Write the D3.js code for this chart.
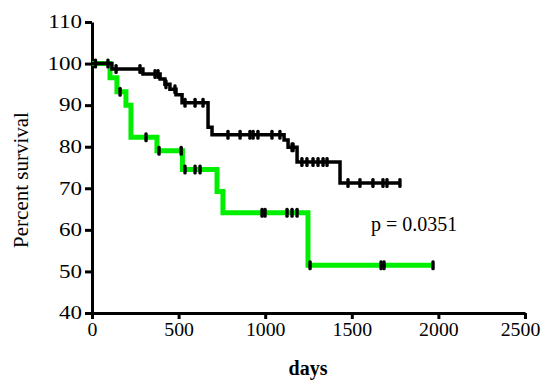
<!DOCTYPE html>
<html>
<head>
<meta charset="utf-8">
<script src="https://cdn.jsdelivr.net/npm/d3@7"></script>
<style>
  html, body { margin: 0; padding: 0; background: #fff; }
  svg { display: block; }
</style>
</head>
<body>
<svg id="chart" width="546" height="380"></svg>
<script>
// Kaplan-Meier steps (days, percent after the drop)
const blackDropDays = [115, 294, 393, 421, 450, 485, 520, 670, 693, 1109, 1132, 1184, 1432];
const blackLevels   = [98.7, 97.5, 96.3, 95.0, 93.8, 92.5, 90.6, 84.7, 82.9, 81.6, 79.9, 76.3, 71.3];
const blackEndDay = 1778;
const blackCensorDays = [20, 92, 139, 277, 364, 381, 427, 479, 537, 595, 641, 785, 855, 912, 930, 958,
  1039, 1085, 1155, 1161, 1212, 1241, 1276, 1305, 1334, 1357, 1478, 1547, 1622, 1680, 1703, 1778];

const greenDropDays = [104, 144, 196, 225, 375, 522, 722, 756, 1247];
const greenLevels   = [96.6, 93.2, 90.0, 82.3, 79.0, 74.5, 69.2, 64.1, 51.5];
const greenEndDay = 1969;
const greenCensorDays = [162, 312, 387, 515, 537, 595, 624, 982, 999, 1126, 1155, 1184, 1259, 1669, 1686, 1969];

const xTicks = [0, 500, 1000, 1500, 2000, 2500];
const yTicks = [40, 50, 60, 70, 80, 90, 100, 110];
const pLabel = "p = 0.0351";

const svg = d3.select("#chart");
const font = "'Liberation Serif', 'Times New Roman', serif";
// the original figure's lettering is a bit wide
const yStretch = 1.28;
const xStretch = 1.1;

const x = d3.scaleLinear().domain([0, 2500]).range([92, 525]);
const y = d3.scaleLinear().domain([40, 110]).range([313, 22]);

// build step points from drops
function stepPoints(days, levels, end) {
  const pts = [[0, 100]];
  days.forEach((d, i) => pts.push([d, levels[i]]));
  pts.push([end, levels[levels.length - 1]]);
  return pts;
}
function valueAt(days, levels, t) {
  let v = 100;
  days.forEach((d, i) => { if (d <= t) v = levels[i]; });
  return v;
}

const line = d3.line()
  .x(d => x(d[0]))
  .y(d => y(d[1]))
  .curve(d3.curveStepAfter);

// axes
const yAxis = d3.axisLeft(y).tickValues(yTicks).tickSize(7).tickSizeOuter(0).tickPadding(3);
const xAxis = d3.axisBottom(x).tickValues(xTicks).tickFormat(d3.format("d"))
  .tickSize(6).tickSizeOuter(0).tickPadding(4);

const gy = svg.append("g").attr("transform", `translate(${x(0)},0)`).call(yAxis);
const gx = svg.append("g").attr("transform", `translate(0,${y(40)})`).call(xAxis);

[gx, gy].forEach(g => {
  g.select(".domain").attr("stroke", "#000").attr("stroke-width", 3);
  g.selectAll(".tick line").attr("stroke", "#000").attr("stroke-width", 3);
  g.selectAll(".tick text")
    .attr("fill", "#000")
    .style("font-family", font)
    .style("font-size", "18px");
});
// widen the tick labels, keeping their anchor points
gy.selectAll(".tick text")
  .attr("x", -10 / yStretch)
  .attr("transform", `scale(${yStretch},1)`);
gx.selectAll(".tick text")
  .attr("x", d => d === 2500 ? -5 / xStretch : 0)  // last label sits a little left, inside the frame
  .attr("transform", `scale(${xStretch},1)`);

// curves
svg.append("path")
  .datum(stepPoints(greenDropDays, greenLevels, greenEndDay))
  .attr("fill", "none")
  .attr("stroke", "#00ee00")
  .attr("stroke-width", 5)
  .attr("d", line);

svg.append("path")
  .datum(stepPoints(blackDropDays, blackLevels, blackEndDay))
  .attr("fill", "none")
  .attr("stroke", "#000")
  .attr("stroke-width", 3.5)
  .attr("d", line);

// censor marks
function censors(days, drops, levels) {
  svg.append("g").selectAll("rect")
    .data(days)
    .join("rect")
    .attr("x", d => x(d) - 1.7)
    .attr("y", d => y(valueAt(drops, levels, d)) - 5)
    .attr("width", 3.4)
    .attr("height", 10)
    .attr("rx", 1.5)
    .attr("fill", "#000");
}
censors(greenCensorDays, greenDropDays, greenLevels);
censors(blackCensorDays, blackDropDays, blackLevels);

// labels
svg.append("text")
  .attr("x", 371)
  .attr("y", 231)
  .style("font-family", font)
  .style("font-size", "20px")
  .text(pLabel);

svg.append("text")
  .attr("x", 308)
  .attr("y", 375)
  .attr("text-anchor", "middle")
  .style("font-family", font)
  .style("font-size", "20px")
  .style("font-weight", "bold")
  .text("days");

svg.append("text")
  .attr("transform", "translate(28,180) rotate(-90)")
  .attr("text-anchor", "middle")
  .style("font-family", font)
  .style("font-size", "21px")
  .text("Percent survival");
</script>
</body>
</html>
